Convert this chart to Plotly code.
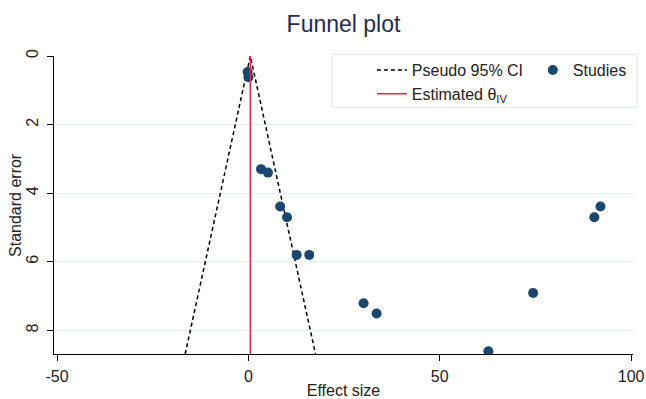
import plotly.graph_objects as go

# ---- data ----
effect = [-0.2, 0.0, 3.3, 5.1, 8.3, 10.1, 12.6, 15.9, 30.1, 33.5, 62.7, 74.4, 90.4, 92.0]
std_err = [0.47, 0.62, 3.30, 3.40, 4.39, 4.70, 5.80, 5.80, 7.21, 7.51, 8.61, 6.91, 4.70, 4.39]
theta_iv = 0.5
se_span = [0.0, 8.69]
x_ticks = [-50, 0, 50, 100]
x_tick_labels = ["-50", "0", "50", "100"]
y_ticks = [0, 2, 4, 6, 8]
y_tick_labels = ["0", "2", "4", "6", "8"]

FONT = "Liberation Sans, Arial, sans-serif"
NAVY = "#1a476f"
RED = "#e0284a"
GRID = "#e9eff3"
TXT = "#222222"

# pseudo 95% CI funnel: theta -/+ 1.96*SE
ci_x = [theta_iv - 1.96 * se_span[1], theta_iv, theta_iv + 1.96 * se_span[1]]
ci_y = [se_span[1], se_span[0], se_span[1]]

fig = go.Figure()
fig.add_trace(go.Scatter(
    x=ci_x, y=ci_y, mode="lines", name="Pseudo 95% CI",
    line=dict(color="black", width=1.5, dash="4px,3px"),
    legend="legend", hoverinfo="skip"))
fig.add_trace(go.Scatter(
    x=effect, y=std_err, mode="markers", name="Studies",
    marker=dict(color=NAVY, size=10, line=dict(width=0)),
    legend="legend2"))
fig.add_trace(go.Scatter(
    x=[theta_iv, theta_iv], y=se_span, mode="lines",
    name="Estimated θ<sub>IV</sub>",
    line=dict(color=RED, width=1.5),
    legend="legend", hoverinfo="skip"))

fig.update_layout(
    width=646, height=399, autosize=False,
    margin=dict(l=54, r=13, t=56, b=45, pad=0, autoexpand=False),
    paper_bgcolor="white", plot_bgcolor="white",
    font=dict(family=FONT, size=16, color=TXT),
    title=dict(text="Funnel plot", x=0.5, xref="paper", xanchor="center",
               y=0.941, yref="container", yanchor="middle",
               font=dict(family=FONT, size=23, color="#1f2d4d")),
    showlegend=True,
    legend=dict(x=0.549, y=1.010, xanchor="left", yanchor="top",
                orientation="v", bgcolor="rgba(0,0,0,0)", borderwidth=0,
                font=dict(family=FONT, size=16, color=TXT),
                tracegroupgap=0),
    legend2=dict(x=0.827, y=1.010, xanchor="left", yanchor="top",
                 orientation="v", bgcolor="rgba(0,0,0,0)", borderwidth=0,
                 font=dict(family=FONT, size=16, color=TXT)),
    xaxis=dict(range=[-50.8, 100.5], tickvals=x_ticks, ticktext=x_tick_labels,
               ticks="outside", automargin=False, ticklabelstandoff=2,
               ticklen=6, tickcolor="black", showline=True, linecolor="black",
               linewidth=1, showgrid=False, zeroline=False,
               title=dict(text="Effect size", standoff=3,
                          font=dict(family=FONT, size=16, color=TXT)),
               tickfont=dict(family=FONT, size=16, color=TXT)),
    yaxis=dict(range=[se_span[1], 0], tickvals=y_ticks, ticktext=y_tick_labels,
               ticks="outside", automargin=False, ticklabelstandoff=3,
               ticklen=6, tickcolor="black", showline=True, linecolor="black",
               linewidth=1, showgrid=True, gridcolor=GRID, gridwidth=1,
               zeroline=False, tickangle=-90,
               tickfont=dict(family=FONT, size=16, color=TXT)),
    annotations=[dict(text="Standard error", textangle=-90,
                      xref="paper", yref="paper", x=-0.0674, y=0.5,
                      xanchor="center", yanchor="middle", showarrow=False,
                      font=dict(family=FONT, size=16, color=TXT))],
    shapes=[dict(type="rect", xref="paper", yref="paper",
                 x0=0.480, x1=1.007, y0=0.828, y1=1.0057,
                 fillcolor="white", line=dict(color="#dde5ea", width=1),
                 layer="above")],
)

fig.write_html("out.html")
